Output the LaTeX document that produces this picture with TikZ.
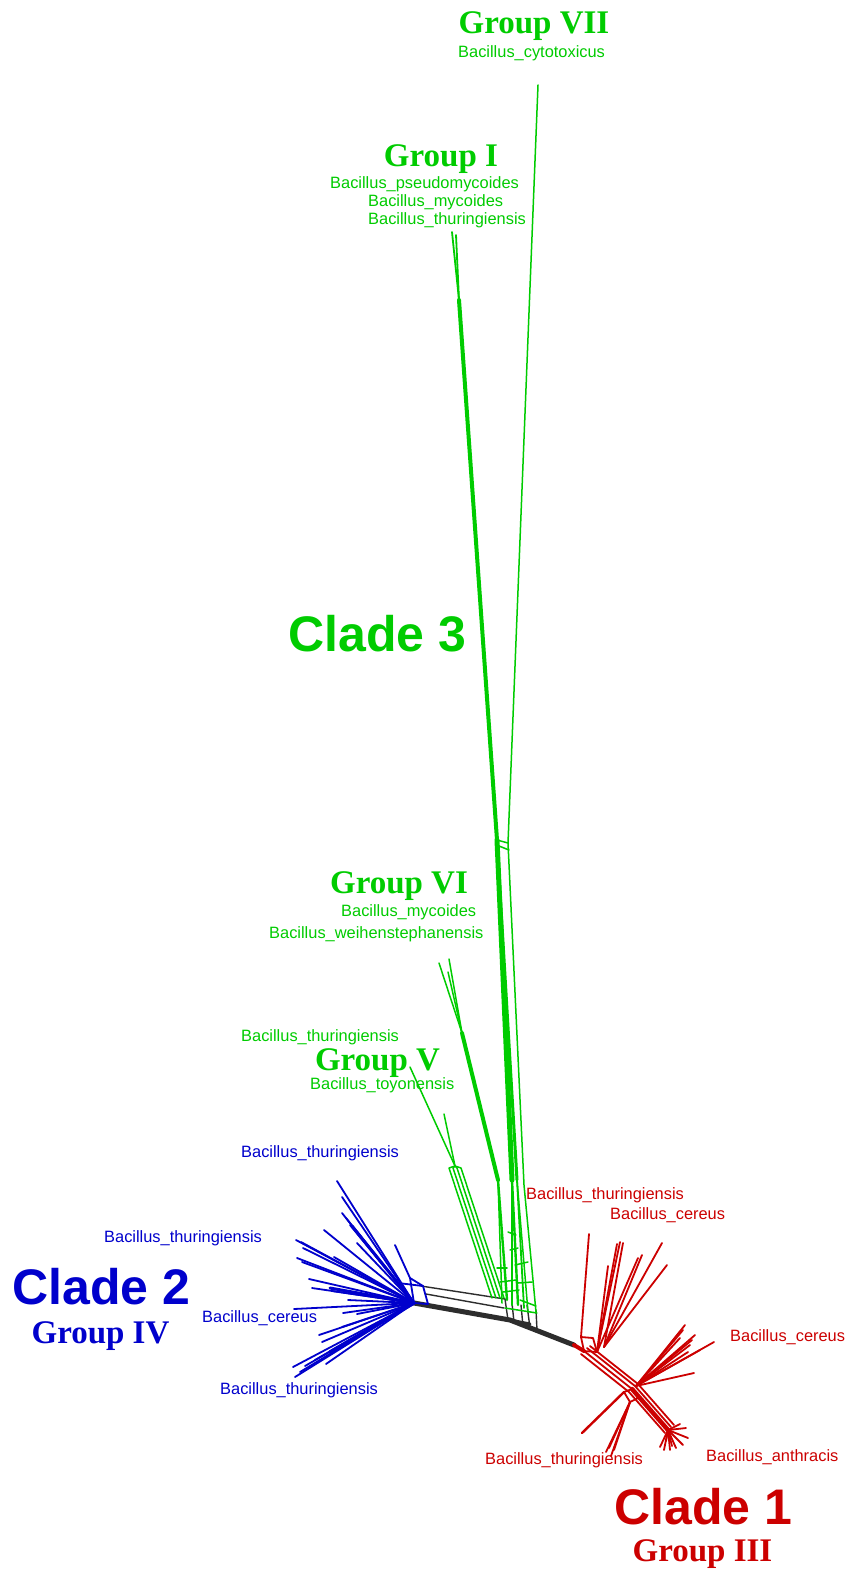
\documentclass[tikz,border=0pt]{standalone}
\usepackage{fontspec}
\usetikzlibrary{calc}
\setmainfont{Liberation Sans}
\newfontfamily\grpfont{Liberation Serif}
\definecolor{cg}{RGB}{0,204,0}
\definecolor{cb}{RGB}{0,0,204}
\definecolor{cr}{RGB}{204,0,0}
\definecolor{ck}{RGB}{45,45,45}
\tikzset{
 lbl/.style={anchor=base west, inner sep=0pt, font=\fontsize{16.4}{18}\selectfont},
 grp/.style={anchor=base, inner sep=0pt, font=\grpfont\bfseries\fontsize{33}{36}\selectfont},
 clade/.style={anchor=base west, inner sep=0pt, font=\bfseries\fontsize{50}{56}\selectfont},
 gl/.style={cg, line width=1.5pt},
 bl/.style={cb, line width=1.8pt},
 rl/.style={cr, line width=1.8pt},
 kl/.style={ck, line width=1.4pt},
 kthick/.style={ck, line width=5pt},
}
\begin{document}
\begin{tikzpicture}[x=1pt,y=-1pt,line cap=round,line join=round]
\fill[white] (0,0) rectangle (848,1570);
\useasboundingbox (0,0) rectangle (848,1570);

% ---------------- labels ----------------
\node[grp,text=cg] (tG7) at (534,34) {Group VII};
\node[lbl,text=cg] (tcyto) at (458,58) {Bacillus\_cytotoxicus};
\node[grp,text=cg] (tG1) at (441,167) {Group I};
\node[lbl,text=cg] (tpseudo) at (330,189) {Bacillus\_pseudomycoides};
\node[lbl,text=cg] (tmyc1) at (368,207) {Bacillus\_mycoides};
\node[lbl,text=cg] (tthu1) at (368,225) {Bacillus\_thuringiensis};
\node[clade,text=cg] (tC3) at (288,651) {Clade 3};
\node[grp,text=cg] (tG6) at (399,893) {Group VI};
\node[lbl,text=cg] (tmyc2) at (341,916) {Bacillus\_mycoides};
\node[lbl,text=cg] (tweih) at (269,938) {Bacillus\_weihenstephanensis};
\node[lbl,text=cg] (tthu2) at (241,1041) {Bacillus\_thuringiensis};
\node[grp,text=cg] (tG5) at (377.5,1070) {Group V};
\node[lbl,text=cg] (ttoyo) at (310,1089) {Bacillus\_toyonensis};

\node[lbl,text=cb] (bthu1) at (241,1157) {Bacillus\_thuringiensis};
\node[lbl,text=cb] (bthu2) at (104,1242) {Bacillus\_thuringiensis};
\node[clade,text=cb] (tC2) at (12,1304) {Clade 2};
\node[grp,text=cb] (tG4) at (100.5,1343) {Group IV};
\node[lbl,text=cb] (bcer) at (202,1322) {Bacillus\_cereus};
\node[lbl,text=cb] (bthu3) at (220,1394) {Bacillus\_thuringiensis};

\node[lbl,text=cr] (rthu1) at (526,1199) {Bacillus\_thuringiensis};
\node[lbl,text=cr] (rcer1) at (610,1219) {Bacillus\_cereus};
\node[lbl,text=cr] (rcer2) at (730,1341) {Bacillus\_cereus};
\node[lbl,text=cr] (rthu2) at (485,1464) {Bacillus\_thuringiensis};
\node[lbl,text=cr] (ranth) at (706,1461) {Bacillus\_anthracis};
\node[clade,text=cr] (tC1) at (614,1524) {Clade 1};
\node[grp,text=cr] (tG3) at (702.5,1561) {Group III};

% ---------------- core (black) ----------------
\coordinate (bh) at (414,1303);
\coordinate (gh) at (510,1320);
\coordinate (rh) at (574,1345);
\coordinate (k1a) at (421,1286); \coordinate (k1b) at (505,1299);
\coordinate (k2a) at (426,1294); \coordinate (k2b) at (504,1308);
\draw[kthick] (bh) -- (gh) -- (rh);
\coordinate (gh2) at (530,1324);
\draw[ck,line width=3pt] (gh) -- (gh2);
\draw[kl] (k1a) -- (k1b);
\draw[kl] (k2a) -- (k2b);
\foreach \i/\xa/\ya/\xb/\yb in {1/505/1299/508/1320, 2/512/1303/514/1322, 3/521/1305/523/1326, 4/527/1305/530/1328, 5/536/1310/537/1330}{
  \coordinate (kv\i a) at (\xa,\ya); \coordinate (kv\i b) at (\xb,\yb);
  \draw[kl] (kv\i a) -- (kv\i b);
}

% ---------------- green: Group I trunk ----------------
\coordinate (g1t1) at (452,232);
\coordinate (g1t2) at (456,235);
\coordinate (g1a) at (459,300);
\coordinate (g1b) at (497,840);
\coordinate (g1c) at (512,1180);
\coordinate (g1d) at (518,1305);
\draw[gl,line width=1.8pt] (g1t1) -- (g1a);
\draw[gl,line width=1.8pt] (g1t2) -- (g1a);
\draw[cg,line width=4pt] (g1a) -- (g1b);
\draw[cg,line width=5pt] (g1b) -- (g1c);
\coordinate (g1c2) at (517,1180);
\draw[gl,line width=3pt] (g1b) -- (g1c2);
\draw[gl,line width=2.4pt] (g1c) -- (g1d);
\coordinate (g1e) at (512,1305); \draw[gl,line width=2.4pt] (g1c) -- (g1e);
\coordinate (g1f) at (524,1308); \draw[gl,line width=1.8pt] (g1c2) -- (g1f);
\coordinate (g1g) at (528,1312); \draw[gl] (g1c2) -- (g1g);

% ---------------- green: Group VII ----------------
\coordinate (g7t) at (538,85);
\coordinate (g7a) at (508,843);
\coordinate (g7b) at (524,1185);
\coordinate (g7c) at (536,1312);
\draw[gl] (g7t) -- (g7a) -- (g7b) -- (g7c);
\coordinate (g7r1) at (499,846); \coordinate (g7r2) at (509,850);
\draw[gl] (g1b) -- (g7a);
\draw[gl] (g7r1) -- (g7r2);

% ---------------- green: Group VI ----------------
\coordinate (g6t1) at (439,963);
\coordinate (g6t2) at (449,959);
\coordinate (g6t3) at (448,972);
\coordinate (g6j) at (462,1033);
\coordinate (g6a) at (498,1180);
\coordinate (g6b) at (507,1300);
\draw[gl] (g6t1) -- (g6j);
\draw[gl] (g6t2) -- (g6j);
\draw[gl] (g6t3) -- (g6j);
\draw[cg,line width=4pt] (g6j) -- (g6a);
\draw[gl,line width=2.4pt] (g6a) -- (g6b);
\coordinate (g6c) at (502,1303); \draw[gl] (g6a) -- (g6c);

% ---------------- green: Group V ----------------
\coordinate (g5t1) at (410,1067);
\coordinate (g5t2) at (444,1114);
\coordinate (g5j) at (455,1166);
\draw[gl] (g5t1) -- (g5j);
\draw[gl] (g5t2) -- (g5j);
\foreach \i/\dx in {1/-6,2/-2,3/2,4/6}{
  \coordinate (g5s\i) at ($(g5j)+(\dx,2)$);
  \coordinate (g5e\i) at ($(498,1298)+(\dx,0)$);
  \draw[gl] (g5j) -- (g5s\i) -- (g5e\i);
}
% green reticulation rungs near base
\foreach \i/\xa/\ya/\xb/\yb in {1/497/1268/507/1268, 2/500/1282/516/1280, 3/503/1292/519/1290, 4/510/1250/518/1248, 5/515/1265/528/1262, 6/518/1283/532/1282, 7/520/1300/536/1306, 8/508/1232/516/1235, 9/505/1308/537/1313}{
  \coordinate (gr\i a) at (\xa,\ya); \coordinate (gr\i b) at (\xb,\yb);
  \draw[gl] (gr\i a) -- (gr\i b);
}

% ---------------- blue ----------------
\foreach \i/\x/\y in {1/337/1181, 2/342/1197, 3/342/1213, 4/346/1218, 5/350/1225, 6/324/1230, 7/296/1240, 8/301/1242, 9/297/1258, 10/302/1262, 11/334/1257, 12/357/1243, 13/309/1279, 14/332/1291, 15/348/1300, 16/294/1309, 17/343/1313, 18/357/1314, 19/342/1327, 20/319/1335, 21/322/1342, 22/293/1367, 23/295/1377, 24/300/1372, 25/326/1364, 26/305/1366, 27/315/1360, 28/303/1248, 29/312/1288}{
  \coordinate (bt\i) at (\x,\y);
  \draw[bl] (bt\i) -- (bh);
}
\coordinate (bb1) at (330,1352);
\draw[cb,line width=3.5pt] (bh) -- (bb1);
\coordinate (bb2) at (352,1226);
\draw[cb,line width=3pt] (bh) -- (bb2);
\coordinate (bb3) at (330,1288);
\draw[cb,line width=3pt] (bh) -- (bb3);
\coordinate (bn1) at (395,1245);
\coordinate (bn2) at (410,1278);
\coordinate (bn3) at (423,1286);
\coordinate (bn4) at (428,1304);
\coordinate (bn5) at (398,1283);
\draw[bl] (bn1) -- (bn2) -- (bh);
\draw[bl] (bn2) -- (bn3) -- (bn4) -- (bh);
\draw[bl] (bn5) -- (bn3);

% ---------------- red ----------------
\coordinate (r0) at (584,1351);
\coordinate (rf) at (597,1352);
\coordinate (rf2) at (604,1347);
\coordinate (rm) at (632,1389);
\coordinate (ra) at (668,1430);
\draw[cr,line width=4pt] (rh) -- (r0);
\draw[rl] (r0) -- (rf);
% vertical tip with small box
\coordinate (rv) at (589,1234);
\coordinate (rv2) at (581,1337);
\coordinate (rv3) at (593,1338);
\draw[rl] (rv) -- (rv2) -- (r0);
\draw[rl] (rv2) -- (rv3) -- (rf);
% upper fan
\foreach \i/\x/\y/\b in {1/620/1242/rf, 2/623/1243/rf2, 3/608/1266/rf, 4/638/1258/rf, 5/642/1255/rf2, 6/662/1243/rf2, 7/667/1265/rf2, 8/617/1244/rf}{
  \coordinate (ru\i) at (\x,\y);
  \draw[rl] (ru\i) -- (\b);
}
% main diagonal
\foreach \i/\dx/\dy in {1/0/0, 2/3/-3, 3/-3/3, 4/6/-5}{
  \coordinate (rd\i a) at ($(r0)+(\dx,\dy)$);
  \coordinate (rd\i b) at ($(rm)+(\dx,\dy)$);
  \coordinate (rd\i c) at ($(ra)+(\dx,\dy)$);
  \draw[rl] (rd\i a) -- (rd\i b) -- (rd\i c);
}
\draw[cr,line width=4.5pt] (rm) -- (ra);
% box near rm
\coordinate (rbx1) at (624,1392);
\coordinate (rbx2) at (630,1402);
\coordinate (rbx3) at (638,1398);
\draw[rl] (rm) -- (rbx1) -- (rbx2) -- (rbx3) -- (rm);
% right fan
\coordinate (rr) at (636,1386);
\foreach \i/\x/\y in {1/685/1325, 2/695/1335, 3/714/1342, 4/694/1373, 5/690/1345, 6/688/1352, 7/680/1338, 8/700/1350, 9/683/1330, 10/692/1340}{
  \coordinate (rrt\i) at (\x,\y);
  \draw[rl] (rr) -- (rrt\i);
}
% lower fan
\coordinate (rl1) at (582,1433);
\draw[cr,line width=2.4pt] (rbx1) -- (rl1);
\foreach \i/\x/\y in {1/606/1452, 2/611/1456, 3/614/1450, 4/609/1448}{
  \coordinate (rlt\i) at (\x,\y);
  \draw[rl] (rbx2) -- (rlt\i);
}
% anthracis fan
\foreach \i/\x/\y in {1/660/1447, 2/664/1450, 3/670/1450, 4/676/1448, 5/683/1445, 6/688/1438, 7/686/1428, 8/680/1424, 9/672/1446, 10/666/1441}{
  \coordinate (rat\i) at (\x,\y);
  \draw[rl] (ra) -- (rat\i);
}
\end{tikzpicture}
\end{document}
